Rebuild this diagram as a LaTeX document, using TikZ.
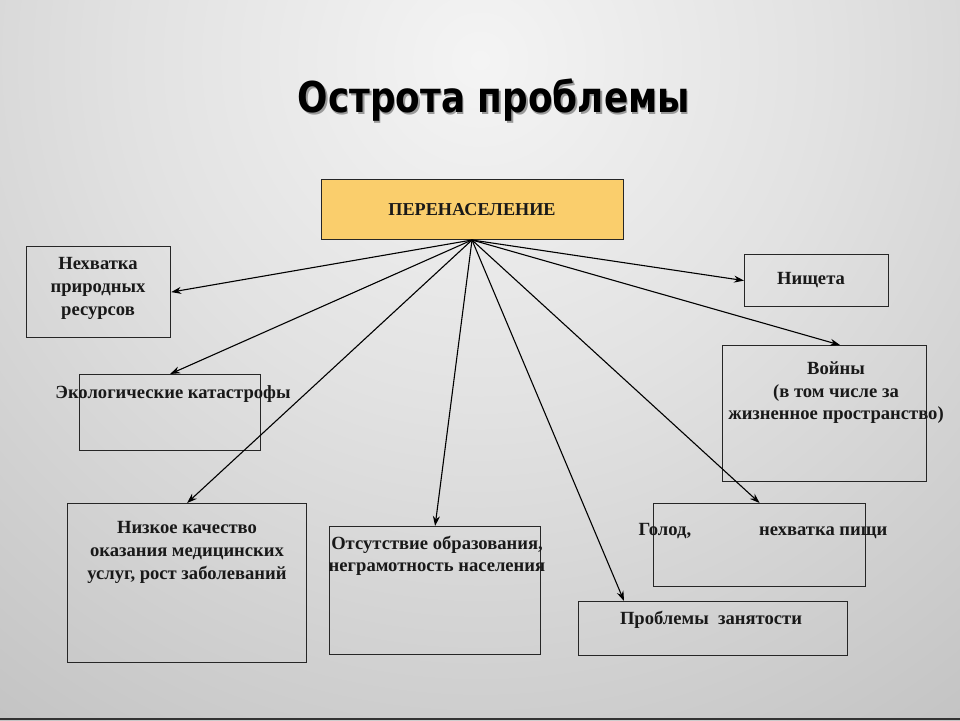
\documentclass[tikz,border=0pt]{standalone}
\usepackage{fontspec}
\setmainfont{Liberation Serif}
\newfontfamily\titlefont{DejaVu Sans Condensed}
\usetikzlibrary{arrows.meta,calc}
\definecolor{boxorange}{RGB}{250,206,108}
\definecolor{bgA}{RGB}{244,244,244}
\definecolor{bgB}{RGB}{226,226,226}
\definecolor{bgC}{RGB}{202,202,202}
\definecolor{bgD}{RGB}{178,178,178}
\definecolor{bgE}{RGB}{160,160,160}
\pgfdeclareradialshading{bgshade}{\pgfpoint{0bp}{0bp}}{color(0bp)=(bgA); color(12bp)=(bgB); color(25bp)=(bgC); color(38bp)=(bgD); color(50bp)=(bgE)}
\tikzset{
  boxframe/.style={draw=black!85, line width=1.2pt, rectangle, inner sep=0pt, anchor=north west},
  lbl/.style={font=\fontsize{18.6}{23}\selectfont\bfseries, align=center, inner sep=0pt, text=black!90},
  conn/.style={draw=black, line width=1.1pt, -{Stealth[length=10pt,width=7pt]}},
}
\newcommand{\titletext}{\titlefont\bfseries Острота проблемы}
\begin{document}
\begin{tikzpicture}[x=1pt,y=-1pt]
\useasboundingbox (0,0) rectangle (960,720);
\begin{scope}
\clip (0,0) rectangle (960,720);
\shade[shading=bgshade] (-240,-660) rectangle (1200,780);
\end{scope}
\draw[black!80, line width=2pt] (0,719) -- (960,719);
% title with shadow
\node[inner sep=0pt, text=black] (title) at (494,101) {\resizebox*{392pt}{44pt}{\rlap{\hspace{0.35pt}\raisebox{-0.35pt}{\color{black!40}\titletext}}\titletext}};
% boxes
\node[boxframe, fill=boxorange, minimum width=302pt, minimum height=60pt] (center) at (321,179) {};
\node[boxframe, minimum width=144pt, minimum height=91pt] (nekh) at (26,246) {};
\node[boxframe, minimum width=144pt, minimum height=52pt] (nish) at (744,254) {};
\node[boxframe, minimum width=181pt, minimum height=76pt] (ekol) at (79,374) {};
\node[boxframe, minimum width=204pt, minimum height=136pt] (voin) at (722,345) {};
\node[boxframe, minimum width=239pt, minimum height=159pt] (nizk) at (67,503) {};
\node[boxframe, minimum width=211pt, minimum height=128pt] (otsut) at (329,526) {};
\node[boxframe, minimum width=212pt, minimum height=83pt] (golod) at (653,503) {};
\node[boxframe, minimum width=269pt, minimum height=54pt] (probl) at (578,601) {};
% texts
\node[lbl, font=\fontsize{18.2}{22}\selectfont\bfseries] (tcenter) at (472,210) {ПЕРЕНАСЕЛЕНИЕ};
\node[lbl] (tnekh) at (98,288) {Нехватка\\природных\\ресурсов};
\node[lbl] (tnish) at (811,280) {Нищета};
\node[lbl] (tekol) at (173,394) {Экологические катастрофы};
\node[lbl, font=\fontsize{18.6}{22.5}\selectfont\bfseries] (tvoin) at (836,393) {Войны\\(в том числе за\\жизненное пространство)};
\node[lbl] (tnizk) at (187,552) {Низкое качество\\оказания медицинских\\услуг, рост заболеваний};
\node[lbl, font=\fontsize{18.6}{21.5}\selectfont\bfseries] (totsut) at (437,556) {Отсутствие образования,\\неграмотность населения};
\node[lbl] (tgolod) at (763,531) {Голод,\hspace{68pt}нехватка пищи};
\node[lbl] (tprobl) at (711,620) {Проблемы\ \ занятости};
% connectors
\coordinate (hub) at (472,240);
\draw[conn] (hub) -- (nekh.east);
\draw[conn] (hub) -- (ekol.north);
\draw[conn] (hub) -- (nizk.north);
\draw[conn] (hub) -- (otsut.north);
\draw[conn] (hub) -- ($(probl.north west)+(46,0)$);
\draw[conn] (hub) -- (golod.north);
\draw[conn] (hub) -- ($(voin.north west)+(118,0)$);
\draw[conn] (hub) -- (nish.west);
\end{tikzpicture}
\end{document}
